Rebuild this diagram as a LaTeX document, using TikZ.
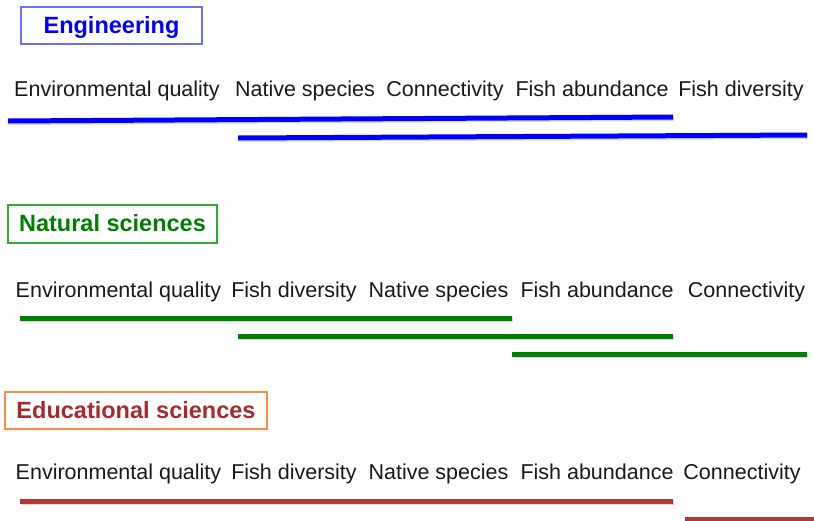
\documentclass[tikz,border=0pt]{standalone}
\usepackage{fontspec}
\setmainfont{Liberation Sans}
\definecolor{engblue}{RGB}{0,0,255}
\definecolor{engborder}{RGB}{110,110,255}
\definecolor{natgreen}{RGB}{0,128,0}
\definecolor{natborder}{RGB}{50,175,50}
\definecolor{edured}{RGB}{168,42,42}
\definecolor{eduborder}{RGB}{255,140,64}
\definecolor{redbar}{RGB}{176,56,56}
\definecolor{txt}{RGB}{25,25,25}
\tikzset{
  titlebox/.style={draw, line width=1.2pt, inner sep=0pt, text height=20pt, text depth=4.2pt, font=\fontsize{23.5}{28}\selectfont\bfseries},
  lbl/.style={inner sep=0pt, anchor=base, text=txt, font=\fontsize{21.5}{26}\selectfont},
  bar/.style={line width=5pt, line cap=butt},
  shadow/.style={line width=5pt, draw=black!25, opacity=0.6, line cap=butt}
}
\begin{document}
\begin{tikzpicture}[x=1pt, y=-1pt]
\useasboundingbox (0,0) rectangle (814,520);
\clip (0,0) rectangle (814,520);
% titles
\node[titlebox, draw=engborder, text=engblue, minimum width=181pt, minimum height=37pt] (t1) at (111.5,25.5) {Engineering};
\node[titlebox, draw=natborder, text=natgreen, minimum width=209pt, minimum height=38pt] (t2) at (112.5,224) {Natural sciences};
\node[titlebox, draw=eduborder, text=edured, minimum width=262pt, minimum height=37pt] (t3) at (136,410.5) {Educational sciences};
% row 1
\node[lbl] (a1) at (117,96.5) {Environmental quality};
\node[lbl] (a2) at (305,96.5) {Native species};
\node[lbl] (a3) at (445,96.5) {Connectivity};
\node[lbl] (a4) at (592,96.5) {Fish abundance};
\node[lbl] (a5) at (741,96.5) {Fish diversity};
% row 2
\node[lbl] (b1) at (118.5,297) {Environmental quality};
\node[lbl] (b2) at (294,297) {Fish diversity};
\node[lbl] (b3) at (438.5,297) {Native species};
\node[lbl] (b4) at (597,297) {Fish abundance};
\node[lbl] (b5) at (746.5,297) {Connectivity};
% row 3
\node[lbl] (c1) at (118.5,479) {Environmental quality};
\node[lbl] (c2) at (294,479) {Fish diversity};
\node[lbl] (c3) at (438.5,479) {Native species};
\node[lbl] (c4) at (597,479) {Fish abundance};
\node[lbl] (c5) at (742,479) {Connectivity};
% bar end points
\coordinate (p1s) at (8,121);   \coordinate (p1e) at (673,117);
\coordinate (p2s) at (238,138); \coordinate (p2e) at (807,135);
\coordinate (q1s) at (20,318);  \coordinate (q1e) at (512,318);
\coordinate (q2s) at (238,336); \coordinate (q2e) at (673,336);
\coordinate (q3s) at (512,354); \coordinate (q3e) at (807,354);
\coordinate (r1s) at (20,501);  \coordinate (r1e) at (673,501);
\coordinate (r2s) at (685,519.5); \coordinate (r2e) at (816,519.5);
% shadows
\foreach \s/\e in {p1s/p1e,p2s/p2e,q1s/q1e,q2s/q2e,q3s/q3e,r1s/r1e,r2s/r2e}
  \draw[shadow] ([shift={(1,1.5)}]\s) -- ([shift={(1,1.5)}]\e);
% bars
\draw[bar, engblue] (p1s) -- (p1e);
\draw[bar, engblue] (p2s) -- (p2e);
\draw[bar, natgreen] (q1s) -- (q1e);
\draw[bar, natgreen] (q2s) -- (q2e);
\draw[bar, natgreen] (q3s) -- (q3e);
\draw[bar, redbar] (r1s) -- (r1e);
\draw[bar, redbar] (r2s) -- (r2e);
\end{tikzpicture}
\end{document}
